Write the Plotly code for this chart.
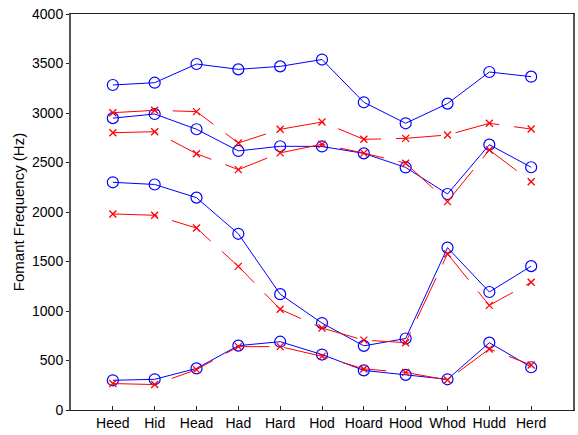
import plotly.graph_objects as go

words = ["Heed", "Hid", "Head", "Had", "Hard", "Hod", "Hoard", "Hood", "Whod", "Hudd", "Herd"]

# Blue (circles) formant series
blue_f1 = [300, 310, 420, 650, 690, 560, 400, 355, 310, 680, 432]
blue_f2 = [2300, 2278, 2145, 1780, 1170, 878, 648, 722, 1640, 1192, 1453]
blue_f3 = [2948, 2990, 2836, 2617, 2664, 2662, 2592, 2450, 2182, 2680, 2452]
blue_f4 = [3283, 3306, 3495, 3441, 3471, 3540, 3108, 2896, 3095, 3414, 3367]

# Red (crosses) formant series
red_f1 = [267, 257, 408, 640, 640, 542, 415, 380, 303, 617, 455]
red_f2 = [1980, 1967, 1838, 1451, 1018, 828, 706, 680, 1577, 1057, 1290]
red_f3 = [2801, 2811, 2589, 2428, 2597, 2684, 2595, 2493, 2105, 2627, 2306]
red_f4 = [3003, 3027, 3014, 2697, 2835, 2909, 2734, 2744, 2778, 2896, 2838]

yticks = [0, 500, 1000, 1500, 2000, 2500, 3000, 3500, 4000]

fig = go.Figure()
for ys in [blue_f1, blue_f2, blue_f3, blue_f4]:
    fig.add_trace(go.Scatter(
        x=words, y=ys, mode="lines+markers",
        line=dict(color="#0000ff", width=1),
        marker=dict(symbol="circle-open", size=11, color="#0000ff", line=dict(width=1.2, color="#0000ff")),
        showlegend=False, hoverinfo="skip"))
for ys in [red_f1, red_f2, red_f3, red_f4]:
    fig.add_trace(go.Scatter(
        x=words, y=ys, mode="lines+markers",
        line=dict(color="#ff0000", width=1, dash="45px,15px"),
        marker=dict(symbol="x-thin-open", size=7, color="#ff0000", line=dict(width=1.3, color="#ff0000")),
        showlegend=False, hoverinfo="skip"))

fig.update_layout(
    width=578, height=435,
    margin=dict(l=71, r=3, t=14, b=25),
    paper_bgcolor="white", plot_bgcolor="white",
    font=dict(family="Liberation Sans, Arial, sans-serif", size=14, color="#000000"),
    xaxis=dict(
        type="category", range=[-1, 11],
        showline=True, linecolor="#222222", linewidth=1, mirror=True,
        ticks="inside", ticklen=4, tickcolor="#222222",
        showgrid=False, zeroline=False,
        tickfont=dict(size=14),
    ),
    yaxis=dict(
        range=[0, 4000], tickvals=yticks, ticktext=[str(v) for v in yticks],
        showline=True, linecolor="#555555", linewidth=2, mirror=True,
        ticks="outside", ticklen=3, tickcolor="#222222",
        showgrid=False, zeroline=False,
        tickfont=dict(size=14),
        title=dict(text="Fomant Frequency (Hz)", font=dict(size=15), standoff=4),
    ),
)

fig.write_html("out.html", config={"displayModeBar": False},
               post_script="document.body.style.margin='0px';")
